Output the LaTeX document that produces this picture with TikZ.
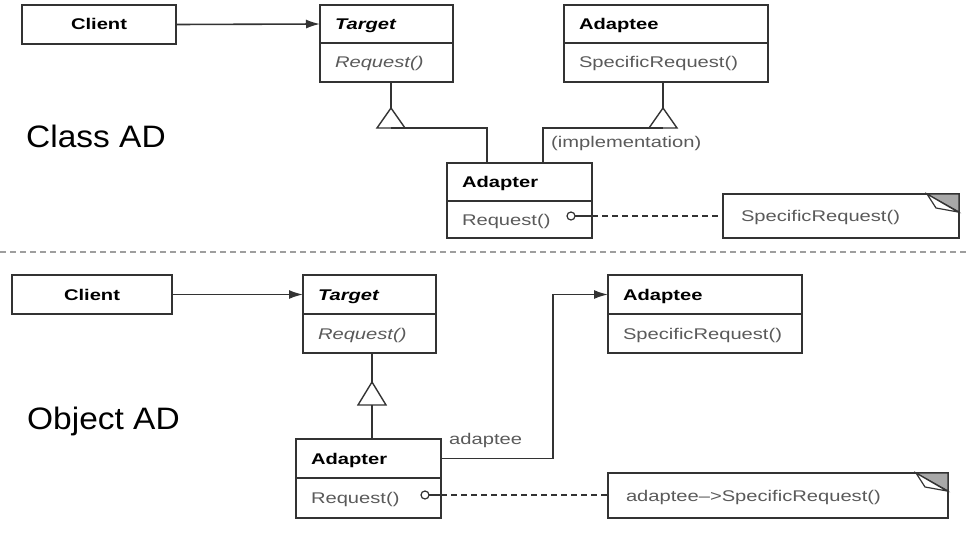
\documentclass[tikz,border=0pt]{standalone}
\usepackage{fontspec}
\usepackage{tikz}
\usetikzlibrary{arrows.meta}
\usetikzlibrary{positioning}
\newfontfamily\umlfont[FakeStretch=1.3]{Liberation Sans}
\newfontfamily\slidefont[FakeStretch=1.08]{Liberation Sans}
\newcommand{\umltext}{\umlfont\fontsize{15.5}{18}\selectfont}
\definecolor{linegray}{HTML}{333333}
\definecolor{textgray}{HTML}{5A5A5A}
\definecolor{sepgray}{HTML}{9E9E9E}
\definecolor{eargray}{HTML}{A8A8A8}
\tikzset{
  umlbox/.style={draw=linegray,line width=1.4pt,rectangle,outer sep=0pt,inner xsep=15pt,inner ysep=0pt,align=left,text height=11pt,text depth=0pt},
  headbox/.style={umlbox,anchor=north west,text=black,font=\umltext\bfseries},
  methbox/.style={umlbox,text=textgray,font=\umltext},
  notebox/.style={umlbox,anchor=north west,inner xsep=18pt,text=textgray,font=\umltext},
  link/.style={draw=linegray,line width=1.4pt},
  assoc/.style={link,line width=1.6pt,-{Latex[length=14pt,width=9pt]}},
  roletext/.style={anchor=west,inner sep=0pt,text=textgray,font=\umltext},
  tagline/.style={anchor=base west,inner sep=0pt,text=black,font=\slidefont\fontsize{31}{36}\selectfont}
}

\begin{document}
\begin{tikzpicture}[x=1pt,y=1pt,yscale=-1,xscale=1]
\useasboundingbox[fill=white] (0,0) rectangle (970,535);

%Class adapter
\node[headbox,text width=124pt,align=center,minimum height=39pt] (client1) at (22,5) {Client};
\node[headbox,text width=103pt,minimum height=38pt,font=\umltext\bfseries\itshape] (target1h) at (320,5) {Target};
\node[methbox,text width=103pt,minimum height=39pt,font=\umltext\itshape,below=0pt of target1h] (target1m) {Request()};
\node[headbox,text width=174pt,minimum height=38pt] (adaptee1h) at (564,5) {Adaptee};
\node[methbox,text width=174pt,minimum height=39pt,below=0pt of adaptee1h] (adaptee1m) {SpecificRequest()};
\node[headbox,text width=115pt,minimum height=38pt] (adapter1h) at (447,163) {Adapter};
\node[methbox,text width=115pt,minimum height=37pt,below=0pt of adapter1h] (adapter1m) {Request()};
\node[notebox,text width=200pt,minimum height=44pt] (note1) at (723,194) {SpecificRequest()};
\node[roletext] (impl1) at (551,143) {(implementation)};
\node[tagline] (classAD) at (26,147) {Class AD};

\coordinate (gen1) at (391,108);
\coordinate (gen2) at (663,108);
\coordinate (dot1) at (571,216);

\draw[assoc] (client1.east) -- (target1h.west);
%Generalization to Target
\draw[link] (gen1 |- target1m.south) -- (gen1);
\draw[link] (gen1) -- ++(-14,20) -- ++(28,0) -- cycle;
\draw[link] ([yshift=20pt]gen1) -| ([xshift=40pt]adapter1h.north west);
%Generalization to Adaptee
\draw[link] (gen2 |- adaptee1m.south) -- (gen2);
\draw[link] (gen2) -- ++(-14,20) -- ++(28,0) -- cycle;
\draw[link] ([yshift=20pt]gen2) -| ([xshift=96pt]adapter1h.north west);
%Note link
\draw[link] (dot1) -- (dot1 -| adapter1m.east);
\draw[link,dash pattern=on 6pt off 4pt] (dot1 -| adapter1m.east) -- (dot1 -| note1.west);
\draw[link,line width=1.2pt,fill=white] (dot1) circle (4);
\filldraw[fill=eargray,draw=linegray,line width=1.2pt] (note1.north east) -- ++(-32,0) -- ++(32,18) -- cycle;
\filldraw[fill=white,draw=linegray,line width=1.2pt] ([xshift=-32pt]note1.north east) -- ++(9,14) -- ++(22,4) -- cycle;

%Separator
\draw[sepgray,line width=1.3pt,dash pattern=on 6pt off 4pt] (0,252) -- (970,252);

%Object adapter
\node[headbox,text width=130pt,align=center,minimum height=39pt] (client2) at (12,275) {Client};
\node[headbox,text width=103pt,minimum height=39pt,font=\umltext\bfseries\itshape] (target2h) at (303,275) {Target};
\node[methbox,text width=103pt,minimum height=39pt,font=\umltext\itshape,below=0pt of target2h] (target2m) {Request()};
\node[headbox,text width=164pt,minimum height=39pt] (adaptee2h) at (608,275) {Adaptee};
\node[methbox,text width=164pt,minimum height=39pt,below=0pt of adaptee2h] (adaptee2m) {SpecificRequest()};
\node[headbox,text width=115pt,minimum height=39pt] (adapter2h) at (296,439) {Adapter};
\node[methbox,text width=115pt,minimum height=40pt,below=0pt of adapter2h] (adapter2m) {Request()};
\node[notebox,text width=304pt,minimum height=45pt] (note2) at (608,473) {adaptee\textendash>SpecificRequest()};
\node[roletext] (role2) at (449,440) {adaptee};
\node[tagline] (objectAD) at (27,429) {Object AD};

\coordinate (gen3) at (372,382);
\coordinate (bend2) at (553,0);
\coordinate (dot2) at (425,495);

\draw[assoc] (client2.east) -- (target2h.west);
%Generalization
\draw[link] (gen3 |- target2m.south) -- (gen3);
\draw[link] (gen3) -- ++(-14,23) -- ++(28,0) -- cycle;
\draw[link] ([yshift=23pt]gen3) -- (gen3 |- adapter2h.north);
%Association
\draw[assoc] (adapter2h.east) -- (bend2 |- adapter2h.east) -- (bend2 |- adaptee2h.west) -- (adaptee2h.west);
%Note link
\draw[link] (dot2) -- (dot2 -| adapter2m.east);
\draw[link,dash pattern=on 6pt off 4pt] (dot2 -| adapter2m.east) -- (dot2 -| note2.west);
\draw[link,line width=1.2pt,fill=white] (dot2) circle (4);
\filldraw[fill=eargray,draw=linegray,line width=1.2pt] (note2.north east) -- ++(-32,0) -- ++(32,18) -- cycle;
\filldraw[fill=white,draw=linegray,line width=1.2pt] ([xshift=-32pt]note2.north east) -- ++(9,14) -- ++(22,4) -- cycle;

\end{tikzpicture}
\end{document}
